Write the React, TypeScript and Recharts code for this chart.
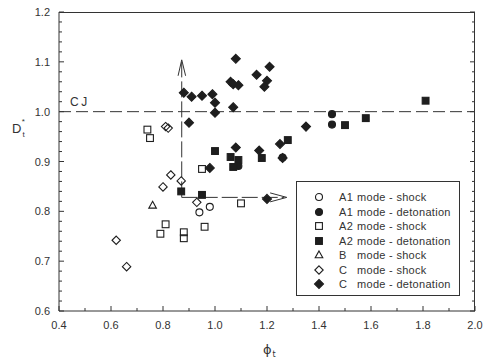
import React from "react";
import { ScatterChart, Scatter, XAxis, YAxis, ReferenceLine, Legend, Label } from "recharts";

type Pt = { x: number; y: number };
type Kind = "circle" | "square" | "triangle" | "diamond";

const a1Shock: Pt[] = [
  { x: 0.94, y: 0.798 },
  { x: 0.98, y: 0.809 },
];
const a1Det: Pt[] = [
  { x: 1.09, y: 0.891 },
  { x: 1.26, y: 0.908 },
  { x: 1.45, y: 0.974 },
  { x: 1.45, y: 0.995 },
];
const a2Shock: Pt[] = [
  { x: 0.74, y: 0.964 },
  { x: 0.75, y: 0.947 },
  { x: 0.95, y: 0.885 },
  { x: 0.81, y: 0.774 },
  { x: 0.79, y: 0.755 },
  { x: 0.88, y: 0.758 },
  { x: 0.88, y: 0.746 },
  { x: 0.96, y: 0.769 },
  { x: 1.1, y: 0.816 },
];
const a2Det: Pt[] = [
  { x: 0.87, y: 0.84 },
  { x: 0.95, y: 0.833 },
  { x: 1.0, y: 0.921 },
  { x: 1.06, y: 0.909 },
  { x: 1.07, y: 0.889 },
  { x: 1.09, y: 0.903 },
  { x: 1.18, y: 0.907 },
  { x: 1.28, y: 0.943 },
  { x: 1.5, y: 0.973 },
  { x: 1.58, y: 0.987 },
  { x: 1.81, y: 1.022 },
];
const bShock: Pt[] = [{ x: 0.76, y: 0.812 }];
const cShock: Pt[] = [
  { x: 0.62, y: 0.742 },
  { x: 0.66, y: 0.689 },
  { x: 0.8, y: 0.849 },
  { x: 0.83, y: 0.873 },
  { x: 0.87, y: 0.861 },
  { x: 0.93, y: 0.818 },
  { x: 0.81, y: 0.97 },
  { x: 0.82, y: 0.967 },
];
const cDet: Pt[] = [
  { x: 0.88, y: 1.038 },
  { x: 0.91, y: 1.03 },
  { x: 0.95, y: 1.032 },
  { x: 0.99, y: 1.035 },
  { x: 1.0, y: 1.018 },
  { x: 1.0, y: 0.998 },
  { x: 0.9, y: 0.978 },
  { x: 1.07, y: 1.009 },
  { x: 1.08, y: 1.106 },
  { x: 1.06, y: 1.06 },
  { x: 1.07, y: 1.055 },
  { x: 1.09, y: 1.053 },
  { x: 1.16, y: 1.074 },
  { x: 1.21, y: 1.09 },
  { x: 1.2, y: 1.062 },
  { x: 1.19, y: 1.05 },
  { x: 1.08, y: 0.928 },
  { x: 0.98, y: 0.887 },
  { x: 1.17, y: 0.922 },
  { x: 1.25, y: 0.935 },
  { x: 1.26, y: 0.907 },
  { x: 1.35, y: 0.97 },
  { x: 1.2, y: 0.825 },
];

const xMajor = [0.4, 0.6, 0.8, 1.0, 1.2, 1.4, 1.6, 1.8, 2.0];
const xTicks = [0.4, 0.5, 0.6, 0.7, 0.8, 0.9, 1.0, 1.1, 1.2, 1.3, 1.4, 1.5, 1.6, 1.7, 1.8, 1.9, 2.0];
const yMajor = [0.6, 0.7, 0.8, 0.9, 1.0, 1.1, 1.2];
const yTicks = [
  0.6, 0.62, 0.64, 0.66, 0.68, 0.7, 0.72, 0.74, 0.76, 0.78, 0.8, 0.82, 0.84, 0.86, 0.88, 0.9,
  0.92, 0.94, 0.96, 0.98, 1.0, 1.02, 1.04, 1.06, 1.08, 1.1, 1.12, 1.14, 1.16, 1.18, 1.2,
];

// arrows: vertical from the corner up, horizontal to the right
const cornerX = 0.872;
const cornerY = 0.828;
const upTipY = 1.104;
const rightTipX = 1.276;

const series = [
  { name: "A1", label: "mode - shock", data: a1Shock, kind: "circle" as Kind, filled: false },
  { name: "A1", label: "mode - detonation", data: a1Det, kind: "circle" as Kind, filled: true },
  { name: "A2", label: "mode - shock", data: a2Shock, kind: "square" as Kind, filled: false },
  { name: "A2", label: "mode - detonation", data: a2Det, kind: "square" as Kind, filled: true },
  { name: "B", label: "mode - shock", data: bShock, kind: "triangle" as Kind, filled: false },
  { name: "C", label: "mode - shock", data: cShock, kind: "diamond" as Kind, filled: false },
  { name: "C", label: "mode - detonation", data: cDet, kind: "diamond" as Kind, filled: true },
];

const W = 484;
const H = 362;
const MARGIN = { top: 12, right: 9, bottom: 0, left: 0 };
const Y_AXIS_W = 59;
const X_AXIS_H = 51;
const PLOT_W = W - MARGIN.left - MARGIN.right - Y_AXIS_W;
const PLOT_H = H - MARGIN.top - MARGIN.bottom - X_AXIS_H;

const INK = "#1e1e1e";
const LINE = "#333";
const FONT = "'Liberation Sans', Arial, sans-serif";

function marker(kind: Kind, filled: boolean, cx: number, cy: number) {
  const fill = filled ? INK : "none";
  const common = { fill, stroke: INK, strokeWidth: 1.1 };
  if (kind === "circle") return <circle cx={cx} cy={cy} r={3.5} {...common} />;
  if (kind === "square") return <rect x={cx - 3.4} y={cy - 3.4} width={6.8} height={6.8} {...common} />;
  if (kind === "triangle")
    return <polygon points={`${cx},${cy - 4} ${cx + 3.8},${cy + 2.8} ${cx - 3.8},${cy + 2.8}`} {...common} />;
  const r = filled ? 4.5 : 4.2;
  return <polygon points={`${cx},${cy - r} ${cx + r},${cy} ${cx},${cy + r} ${cx - r},${cy}`} {...common} />;
}

const isMajor = (v: number, list: number[]) => list.some((m) => Math.abs(m - v) < 1e-6);

function XTick(props: any) {
  const { x, y, payload } = props;
  const major = isMajor(payload.value, xMajor);
  return (
    <g>
      <line x1={x} x2={x} y1={y} y2={y - (major ? 5 : 3)} stroke={LINE} />
      {major && (
        <text x={x} y={y + 18} textAnchor="middle" fontSize={11} fontFamily={FONT} fill="#333">
          {payload.value.toFixed(1)}
        </text>
      )}
    </g>
  );
}

// left ticks with labels, plus the mirrored inward ticks on the right edge
function YTick(props: any) {
  const { x, y, payload } = props;
  const major = isMajor(payload.value, yMajor);
  const len = major ? 5 : 3;
  return (
    <g>
      <line x1={x} x2={x + len} y1={y} y2={y} stroke={LINE} />
      <line x1={x + PLOT_W} x2={x + PLOT_W - len} y1={y} y2={y} stroke={LINE} />
      {major && (
        <text x={x - 9} y={y + 4} textAnchor="end" fontSize={11} fontFamily={FONT} fill="#333">
          {payload.value.toFixed(1)}
        </text>
      )}
    </g>
  );
}

function LegendBox() {
  return (
    <div
      style={{
        border: `1px solid ${LINE}`,
        background: "#fff",
        width: 164,
        height: 115,
        boxSizing: "border-box",
        paddingTop: 8,
        fontFamily: FONT,
        fontSize: 11,
        letterSpacing: 0.3,
        color: "#333",
      }}
    >
      {series.map((s, i) => (
        <div key={i} style={{ display: "flex", alignItems: "center", height: 14.5, whiteSpace: "pre" }}>
          <svg width={42} height={12} style={{ flex: "none" }}>
            {marker(s.kind, s.filled, 22, 6)}
          </svg>
          <span style={{ display: "inline-block", width: 18 }}>{s.name}</span>
          <span>{s.label}</span>
        </div>
      ))}
    </div>
  );
}

export default function App() {
  return (
    <div style={{ position: "absolute", left: 0, top: 0, width: W, height: H, background: "#fff" }}>
      <ScatterChart width={W} height={H} margin={MARGIN}>
        <XAxis
          type="number"
          dataKey="x"
          domain={[0.4, 2.0]}
          ticks={xTicks}
          interval={0}
          tickLine={false}
          tickSize={0}
          tickMargin={0}
          tick={(p: any) => <XTick {...p} />}
          height={X_AXIS_H}
          axisLine={{ stroke: LINE }}
          allowDataOverflow
        >
          <Label
            content={() => (
              <text x={263} y={354} fontFamily="'DejaVu Sans', sans-serif" fontSize={13} fill="#333">
                ϕ
                <tspan fontSize={8} dx={1} dy={3}>
                  t
                </tspan>
              </text>
            )}
          />
        </XAxis>
        <YAxis
          type="number"
          dataKey="y"
          domain={[0.6, 1.2]}
          ticks={yTicks}
          interval={0}
          tickLine={false}
          tickSize={0}
          tickMargin={0}
          tick={(p: any) => <YTick {...p} />}
          width={Y_AXIS_W}
          axisLine={{ stroke: LINE }}
          allowDataOverflow
        >
          <Label
            content={() => (
              <text x={12} y={133} fontFamily={FONT} fontSize={13} fill="#333">
                D
                <tspan fontSize={8} dx={1} dy={4}>
                  t
                </tspan>
                <tspan fontSize={8} dx={-3} dy={-13}>
                  *
                </tspan>
              </text>
            )}
          />
        </YAxis>

        <ReferenceLine y={1.0} stroke={LINE} strokeDasharray="12 5">
          <Label
            content={(p: any) => (
              <text
                x={(p.viewBox?.x ?? 59) + 11}
                y={(p.viewBox?.y ?? 111) - 6}
                fontFamily={FONT}
                fontSize={12}
                letterSpacing={2.5}
                fill="#333"
              >
                CJ
              </text>
            )}
          />
        </ReferenceLine>
        <ReferenceLine
          segment={[{ x: cornerX, y: cornerY }, { x: cornerX, y: upTipY - 0.004 }]}
          stroke={LINE}
          strokeDasharray="16 4"
        />
        <ReferenceLine segment={[{ x: cornerX, y: upTipY }, { x: cornerX - 0.014, y: 1.072 }]} stroke={LINE} />
        <ReferenceLine segment={[{ x: cornerX, y: upTipY }, { x: cornerX + 0.015, y: 1.072 }]} stroke={LINE} />
        <ReferenceLine
          segment={[{ x: cornerX, y: cornerY }, { x: rightTipX - 0.01, y: cornerY }]}
          stroke={LINE}
          strokeDasharray="16 4"
        />
        <ReferenceLine segment={[{ x: rightTipX, y: cornerY }, { x: 1.212, y: 0.837 }]} stroke={LINE} />
        <ReferenceLine segment={[{ x: rightTipX, y: cornerY }, { x: 1.212, y: 0.819 }]} stroke={LINE} />

        {series.map((s, i) => (
          <Scatter
            key={i}
            name={`${s.name} ${s.label}`}
            data={s.data}
            isAnimationActive={false}
            shape={(p: any) => marker(s.kind, s.filled, p.cx, p.cy)}
          />
        ))}

        <Legend
          layout="vertical"
          align="center"
          verticalAlign="middle"
          wrapperStyle={{ left: 296, top: 181, width: 165, height: 116 }}
          content={() => <LegendBox />}
        />
      </ScatterChart>
      {/* top and right edges of the plot frame */}
      <div
        style={{
          position: "absolute",
          left: MARGIN.left + Y_AXIS_W,
          top: MARGIN.top,
          width: PLOT_W,
          height: PLOT_H,
          boxSizing: "border-box",
          borderTop: `1px solid ${LINE}`,
          borderRight: `1px solid ${LINE}`,
          pointerEvents: "none",
        }}
      />
    </div>
  );
}
